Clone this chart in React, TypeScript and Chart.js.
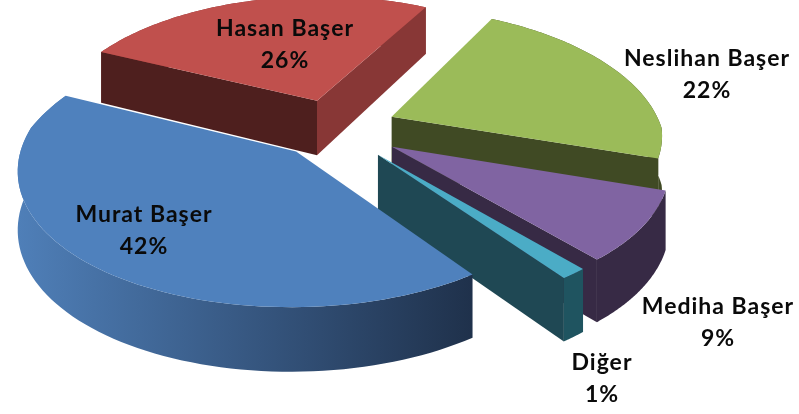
import React, { useEffect, useRef } from "react";
import { Chart, registerables } from "chart.js";

Chart.register(...registerables);

const categories = ["Hasan Başer", "Neslihan Başer", "Mediha Başer", "Diğer", "Murat Başer"];
const shares = [26, 22, 8.6, 1.4, 42];
const explodes = [60, 62, 67, 67, 60];
const topColors = ["#C0504D", "#9BBB59", "#8064A2", "#4BACC6", "#4F81BD"];
const startFaceColors = ["#4E1F1E", "#404A24", "#372A45", "#1F4854", "#22344F"];
const endFaceColors = ["#883736", "#404A24", "#372A45", "#1F4854", "#22344F"];
const wallColors = ["#883736", "#404A24", "#372A45", "#1F5460", "#22344F"];
const murat = 4;
const muratWallStops = ["#4F7FB8", "#3F6594", "#2F4B70", "#1F314B"];
const labelCentres = [
  [285, 45],
  [707, 75],
  [718, 323],
  [602, 379],
  [144, 231],
];

const ROTATION = -65;
const RADIUS = 270;
const SQUASH = 0.5;
const BACK_PERSPECTIVE = 0.2;
const FRONT_PERSPECTIVE_X = 0.12;
const FRONT_PERSPECTIVE_Y = 0.1;
const DEPTH = 57;

const pie3d = {
  id: "pie3d",
  beforeDatasetDraw(chart: any, args: any) {
    const ctx = chart.ctx;
    args.meta.data.forEach((arc: any, i: number) => {
      const { x: cx, y: cy, startAngle: a0, endAngle: a1, outerRadius: R } = arc;
      const mid = (a0 + a1) / 2;
      const off = arc.options.offset;
      const ox = Math.cos(mid) * off;
      const oy = Math.sin(mid) * off;
      const project = (r: number, a: number, z: number) => {
        const u = ox + r * Math.cos(a);
        const v = oy + r * Math.sin(a);
        const sx = 1 / (1 - ((v < 0 ? BACK_PERSPECTIVE : FRONT_PERSPECTIVE_X) * v) / R);
        const sy = 1 / (1 - ((v < 0 ? BACK_PERSPECTIVE : FRONT_PERSPECTIVE_Y) * v) / R);
        return [cx + u * sx, cy + SQUASH * v * sy + z * sy];
      };
      const fill = (pts: number[][], style: any) => {
        ctx.beginPath();
        pts.forEach((p, j) => (j ? ctx.lineTo(p[0], p[1]) : ctx.moveTo(p[0], p[1])));
        ctx.closePath();
        ctx.fillStyle = style;
        ctx.fill();
      };
      const steps = 80;
      const rim: number[][] = [];
      const rimLow: number[][] = [];
      for (let j = 0; j <= steps; j++) {
        const a = a0 + ((a1 - a0) * j) / steps;
        rim.push(project(R, a, 0));
        rimLow.push(project(R, a, DEPTH));
      }
      const tip = project(0, 0, 0);
      const tipLow = project(0, 0, DEPTH);
      let wall: any = wallColors[i];
      if (i === murat) {
        const xs = rim.map((p) => p[0]);
        const g = ctx.createLinearGradient(Math.min(...xs), 0, Math.max(...xs), 0);
        muratWallStops.forEach((c, k) => g.addColorStop(k / (muratWallStops.length - 1), c));
        wall = g;
      }
      fill([...rim, ...rimLow.slice().reverse()], wall);
      if (rim[0][0] < tip[0]) fill([tip, rim[0], rimLow[0], tipLow], startFaceColors[i]);
      if (rim[steps][0] > tip[0]) fill([tip, rim[steps], rimLow[steps], tipLow], endFaceColors[i]);
      fill([tip, ...rim], arc.options.backgroundColor);
    });
    return false;
  },
  afterDatasetsDraw(chart: any) {
    const ctx = chart.ctx;
    ctx.save();
    ctx.font = "bold 23px Lato";
    ctx.letterSpacing = "1px";
    ctx.fillStyle = "#0A0A0A";
    ctx.textAlign = "center";
    ctx.textBaseline = "middle";
    categories.forEach((name, i) => {
      const [x, y] = labelCentres[i];
      ctx.fillText(name, x, y - 16);
      ctx.fillText(`${Math.round(shares[i])}%`, x, y + 16);
    });
    ctx.restore();
  },
};

export default function App() {
  const ref = useRef<HTMLCanvasElement>(null);
  useEffect(() => {
    const chart = new Chart(ref.current as HTMLCanvasElement, {
      type: "pie",
      data: {
        labels: categories,
        datasets: [
          {
            data: shares,
            backgroundColor: topColors,
            borderWidth: 0,
            offset: explodes,
          },
        ],
      },
      options: {
        responsive: false,
        animation: false,
        rotation: ROTATION,
        radius: RADIUS,
        layout: { padding: { right: 129, bottom: 158 } },
        plugins: { legend: { display: false }, tooltip: { enabled: false } },
      },
      plugins: [pie3d],
    } as any);
    return () => chart.destroy();
  }, []);
  return (
    <canvas
      ref={ref}
      width={799}
      height={414}
      style={{ position: "fixed", left: 0, top: 0, width: 799, height: 414 }}
    />
  );
}
